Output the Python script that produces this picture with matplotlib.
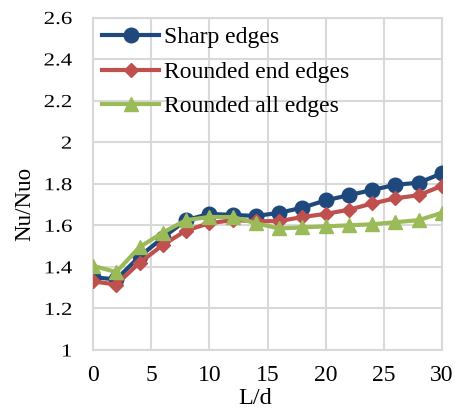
import matplotlib
matplotlib.use("Agg")
import matplotlib.pyplot as plt
from matplotlib.patheffects import AbstractPathEffect
from matplotlib.transforms import Affine2D

plt.rcParams['font.family'] = ['Liberation Serif', 'DejaVu Serif']

ld = [0, 2, 4, 6, 8, 10, 12, 14, 16, 18, 20, 22, 24, 26, 28, 30]
sharp = [1.35, 1.34, 1.45, 1.54, 1.625, 1.655, 1.65, 1.645, 1.66, 1.685, 1.72, 1.745, 1.77, 1.795, 1.805, 1.85]
rounded_end = [1.33, 1.315, 1.42, 1.505, 1.575, 1.61, 1.625, 1.62, 1.62, 1.64, 1.655, 1.675, 1.705, 1.73, 1.745, 1.79]
rounded_all = [1.405, 1.375, 1.495, 1.565, 1.625, 1.64, 1.64, 1.61, 1.585, 1.59, 1.595, 1.60, 1.605, 1.615, 1.625, 1.66]

xticks = [0, 5, 10, 15, 20, 25, 30]
yticks = [1, 1.2, 1.4, 1.6, 1.8, 2, 2.2, 2.4, 2.6]
ytick_labels = ['1', '1.2', '1.4', '1.6', '1.8', '2', '2.2', '2.4', '2.6']


class Squash(AbstractPathEffect):
    """Draw text glyphs compressed vertically about the digit mid-height."""

    def __init__(self, sy, mid=34.0):
        super().__init__()
        self._sy = sy
        self._mid = mid

    def draw_path(self, renderer, gc, tpath, affine, rgbFace=None):
        squash = Affine2D().translate(0, -self._mid).scale(1, self._sy).translate(0, self._mid)
        renderer.draw_path(gc, tpath, squash + affine, rgbFace)


fig = plt.figure(figsize=(4.55, 4.18), dpi=100)
ax = fig.add_axes([93 / 455, 1 - 350 / 418, 349 / 455, 332.5 / 418])

ax.plot(ld, sharp, color='#1F497D', lw=3, marker='o', ms=10.5, label='Sharp edges', zorder=3)
ax.plot(ld, rounded_end, color='#C0504D', lw=3, marker='D', ms=7.5, label='Rounded end edges', zorder=4)
ax.plot(ld, rounded_all, color='#9BBB59', lw=3, marker='^', ms=10.5, label='Rounded all edges', zorder=5)

ax.set_xlim(0, 30)
ax.set_ylim(1, 2.6)
ax.set_xticks(xticks)
ax.set_yticks(yticks)
ax.set_yticklabels(ytick_labels)
ax.grid(True, color='#D9D9D9', lw=1.5)
ax.set_axisbelow(True)
for s in ax.spines.values():
    s.set_color('#D9D9D9')
    s.set_linewidth(1.5)
ax.tick_params(length=0, colors='black')
ax.tick_params(axis='x', labelsize=17, pad=10.5)
ax.tick_params(axis='y', labelsize=16.5, pad=15)
for lbl in ax.get_yticklabels():
    lbl.set_path_effects([Squash(0.8)])

ax.set_xlabel('L/d', fontsize=17.5, labelpad=2)
ax.xaxis.label.set_x(0.464)
ax.set_ylabel('Nu/Nuo', fontsize=16.5, labelpad=6)
ax.yaxis.label.set_y(0.439)

leg = ax.legend(loc='upper left', frameon=False, fontsize=17, handlelength=2.4,
                handletextpad=0.22, labelspacing=0.546, borderpad=0.4,
                borderaxespad=0.0, bbox_to_anchor=(0.0, 1.0))

fig.savefig('out.png', dpi=100)
